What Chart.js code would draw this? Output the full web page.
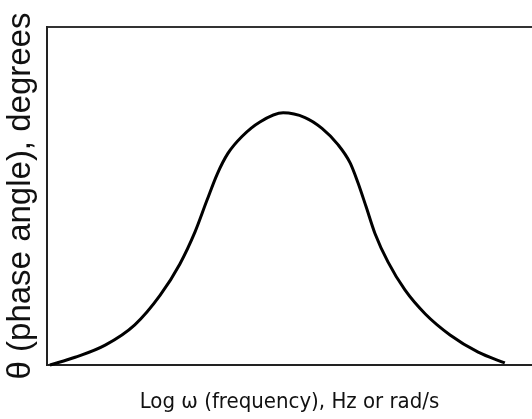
<!DOCTYPE html>
<html>
<head>
<meta charset="utf-8">
<script src="https://cdn.jsdelivr.net/npm/chart.js@4.4.1/dist/chart.umd.min.js"></script>
<style>
  html, body { margin: 0; padding: 0; background: #fff; overflow: hidden; }
  #wrap { width: 532px; height: 419px; }
</style>
</head>
<body>
<div id="wrap"><canvas id="phase_chart"></canvas></div>
<script>
// curve, both axes 0..100 (no numeric ticks shown)
var log_freq = [0.6, 5.8, 12.0, 18.1, 23.3, 27.4, 30.5, 33.0, 35.1, 37.3, 40.2, 43.9, 48.7,
                53.2, 56.7, 60.0, 62.5, 64.1, 65.8, 67.6, 70.3, 73.8, 78.0, 83.1, 88.9, 94.4];
var phase_angle = [0, 2.3, 5.9, 11.9, 20.6, 29.9, 39.3, 48.8, 56.5, 62.6, 67.6, 71.9, 74.6,
                   73.2, 70.0, 65.2, 59.8, 54.0, 46.8, 39.0, 30.5, 22.2, 15.1, 8.9, 3.8, 0.6];

var x_title = 'Log \u03c9 (frequency), Hz or rad/s';
var y_title = '\u03b8 (phase angle), degrees';

function init_phase_chart() {
    var ctx = document.getElementById('phase_chart').getContext('2d');

    var points = [];
    for (var i = 0; i < log_freq.length; i++) {
        points.push({x: log_freq[i], y: phase_angle[i]});
    }

    var config = {
        type: 'scatter',
        data: {
            datasets: [{
                data: points,
                showLine: true,
                borderColor: '#000',
                borderWidth: 3,
                pointRadius: 0,
                cubicInterpolationMode: 'monotone',
                clip: false
            }]
        },
        options: {
            responsive: true,
            maintainAspectRatio: false,
            animation: false,
            layout: { padding: 0 },
            plugins: {
                legend: { display: false },
                tooltip: { enabled: false }
            },
            scales: {
                x: {
                    type: 'linear',
                    position: 'bottom',
                    min: 0, max: 100,
                    grid: { display: false, drawTicks: false },
                    border: { display: true, color: '#222', width: 2 },
                    ticks: { display: false },
                    title: {
                        display: true,
                        text: x_title,
                        color: '#111',
                        font: { family: "'Liberation Sans Narrow', 'DejaVu Sans Condensed', 'Liberation Sans', sans-serif", size: 22 },
                        padding: { top: 0, bottom: 4 }
                    },
                    afterFit: function (s) { s.height = 54; }
                },
                x2: {
                    type: 'linear',
                    position: 'top',
                    min: 0, max: 100,
                    grid: { display: false, drawTicks: false },
                    border: { display: true, color: '#333', width: 2 },
                    ticks: { display: false },
                    afterFit: function (s) { s.height = 27; }
                },
                y: {
                    min: 0, max: 100,
                    grid: { display: false, drawTicks: false },
                    border: { display: true, color: '#222', width: 2 },
                    ticks: { display: false },
                    title: {
                        display: true,
                        text: y_title,
                        color: '#111',
                        font: { family: "'Liberation Sans', Arial, sans-serif", size: 33 },
                        padding: { top: 1, bottom: 0 }
                    },
                    afterFit: function (s) { s.width = 47; }
                }
            }
        }
    };

    return new Chart(ctx, config);
}

init_phase_chart();
</script>
</body>
</html>
